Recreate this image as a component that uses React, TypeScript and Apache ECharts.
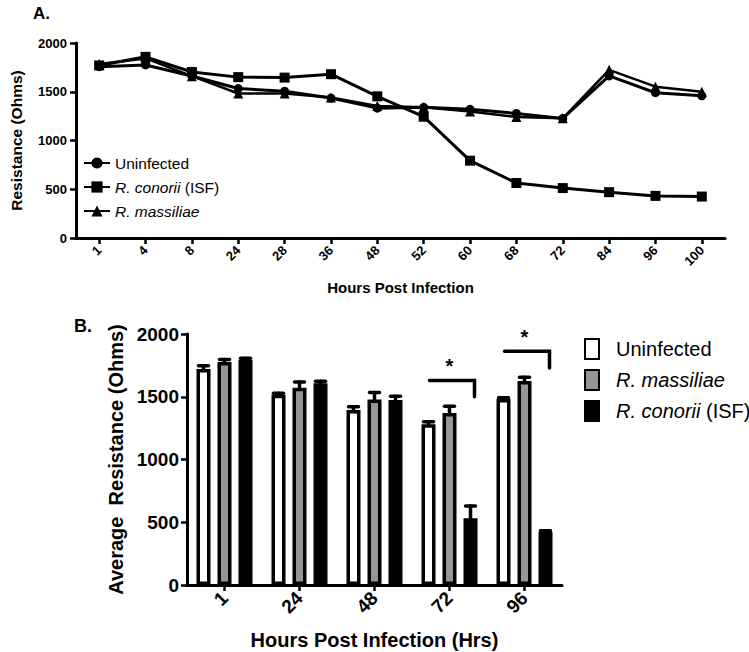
import React, { useEffect, useRef } from "react";
import * as echarts from "echarts";

// ---- Panel A data ----
const hoursA = ["1", "4", "8", "24", "28", "36", "48", "52", "60", "68", "72", "84", "96", "100"];
const uninfectedA = [1757, 1775, 1662, 1533, 1505, 1435, 1332, 1340, 1320, 1278, 1226, 1662, 1490, 1458];
const conoriiA = [1770, 1858, 1703, 1650, 1645, 1680, 1453, 1244, 793, 564, 512, 470, 432, 425];
const massiliaeA = [1785, 1842, 1660, 1482, 1482, 1440, 1354, 1340, 1298, 1240, 1228, 1725, 1552, 1500];

// ---- Panel B data ----
const hoursB = ["1", "24", "48", "72", "96"];
const uninfectedB = [1722, 1515, 1395, 1280, 1482];
const uninfectedErr = [25, 12, 25, 20, 10];
const massiliaeB = [1776, 1572, 1478, 1370, 1625];
const massiliaeErr = [20, 45, 55, 55, 30];
const conoriiB = [1795, 1608, 1474, 532, 422];
const conoriiErr = [12, 15, 30, 98, 10];
const sigCats = [3, 4];
const sigTop = [1630, 1862];
const sigBottom = [1500, 1730];

const FONT = "'Liberation Sans', Arial, sans-serif";

export default function App() {
  const ref = useRef<HTMLDivElement>(null);
  useEffect(() => {
    document.body.style.margin = "0";
    const chart = echarts.init(ref.current!, null, { renderer: "svg" });

    const barSeriesDefs = [
      { name: "B:Uninfected", data: uninfectedB, err: uninfectedErr, color: "#ffffff" },
      { name: "B:R. massiliae", data: massiliaeB, err: massiliaeErr, color: "#969696" },
      { name: "B:R. conorii (ISF)", data: conoriiB, err: conoriiErr, color: "#000000" },
    ];
    const barStep = 21;

    const errData: number[][] = [];
    barSeriesDefs.forEach((s, si) => {
      s.data.forEach((v, ci) => errData.push([ci, v, s.err[ci], si]));
    });

    const sigData = sigCats.map((c, i) => [c, sigTop[i], sigBottom[i]]);

    const fmt = (prefix: string) => (name: string) => {
      const n = name.replace(prefix, "");
      if (n === "R. conorii (ISF)") return "{i|R. conorii} (ISF)";
      if (n === "R. massiliae") return "{i|R. massiliae}";
      return n;
    };
    const plain = (v: number) => String(v);

    const axisLine = { show: true, lineStyle: { color: "#000", width: 3 } };
    const axisTick = { show: true, length: 6, lineStyle: { color: "#000", width: 2.5 } };

    const option: any = {
      animation: false,
      textStyle: { fontFamily: FONT, color: "#000" },
      title: [
        { text: "A.", left: 28, top: 0, textStyle: { fontSize: 17, fontWeight: "bold", fontFamily: FONT, color: "#000" } },
        { text: "B.", left: 69, top: 312, textStyle: { fontSize: 18, fontWeight: "bold", fontFamily: FONT, color: "#000" } },
      ],
      legend: [
        {
          orient: "vertical",
          left: 83,
          top: 155,
          padding: 0,
          itemWidth: 26,
          itemHeight: 14,
          itemGap: 8,
          data: ["Uninfected", "R. conorii (ISF)", "R. massiliae"],
          formatter: fmt(""),
          textStyle: {
            fontSize: 15.5,
            fontFamily: FONT,
            color: "#000",
            rich: { i: { fontStyle: "italic", fontSize: 15.5, fontFamily: FONT, color: "#000" } },
          },
        },
        {
          orient: "vertical",
          left: 584,
          top: 338,
          padding: 0,
          itemWidth: 14,
          itemHeight: 20,
          itemGap: 9,
          icon: "rect",
          data: barSeriesDefs.map((s) => s.name),
          formatter: fmt("B:"),
          textStyle: {
            fontSize: 20,
            fontFamily: FONT,
            color: "#000",
            padding: [0, 0, 0, 12],
            rich: { i: { fontStyle: "italic", fontSize: 20, fontFamily: FONT, color: "#000" } },
          },
        },
      ],
      grid: [
        { left: 61, top: 43, width: 664, height: 195 },
        { left: 187, top: 334, width: 375, height: 251 },
      ],
      xAxis: [
        {
          type: "category",
          gridIndex: 0,
          data: hoursA,
          axisLine,
          axisTick: { ...axisTick, alignWithLabel: true },
          axisLabel: { rotate: 45, fontSize: 13, fontWeight: "bold", color: "#000", margin: 10, fontFamily: FONT },
          name: "Hours Post Infection",
          nameLocation: "middle",
          nameGap: 42,
          nameTextStyle: { fontSize: 15, fontWeight: "bold", color: "#000", fontFamily: FONT },
        },
        {
          type: "category",
          gridIndex: 1,
          data: hoursB,
          axisLine,
          axisTick: { ...axisTick, alignWithLabel: true },
          axisLabel: { rotate: 45, fontSize: 19, fontWeight: "bold", color: "#000", margin: 10, fontFamily: FONT },
          name: "Hours Post Infection (Hrs)",
          nameLocation: "middle",
          nameGap: 45,
          nameTextStyle: { fontSize: 20, fontWeight: "bold", color: "#000", fontFamily: FONT },
        },
      ],
      yAxis: [
        {
          type: "value",
          gridIndex: 0,
          min: 0,
          max: 2000,
          interval: 500,
          axisLine,
          axisTick,
          splitLine: { show: false },
          axisLabel: { fontSize: 13, fontWeight: "bold", color: "#000", margin: 9, fontFamily: FONT, formatter: plain },
          name: "Resistance (Ohms)",
          nameLocation: "middle",
          nameGap: 52,
          nameTextStyle: { fontSize: 15.5, fontWeight: "bold", color: "#000", fontFamily: FONT },
        },
        {
          type: "value",
          gridIndex: 1,
          min: 0,
          max: 2000,
          interval: 500,
          axisLine,
          axisTick,
          splitLine: { show: false },
          axisLabel: { fontSize: 19, fontWeight: "bold", color: "#000", margin: 8, fontFamily: FONT, formatter: plain },
          name: "Average  Resistance (Ohms)",
          nameLocation: "middle",
          nameGap: 59,
          nameTextStyle: { fontSize: 20, fontWeight: "bold", color: "#000", fontFamily: FONT },
        },
      ],
      series: [
        {
          name: "Uninfected",
          type: "line",
          xAxisIndex: 0,
          yAxisIndex: 0,
          data: uninfectedA,
          symbol: "circle",
          symbolSize: 9,
          color: "#000",
          lineStyle: { color: "#000", width: 3 },
          itemStyle: { color: "#000" },
        },
        {
          name: "R. conorii (ISF)",
          type: "line",
          xAxisIndex: 0,
          yAxisIndex: 0,
          data: conoriiA,
          symbol: "rect",
          symbolSize: 10,
          color: "#000",
          lineStyle: { color: "#000", width: 3 },
          itemStyle: { color: "#000" },
        },
        {
          name: "R. massiliae",
          type: "line",
          xAxisIndex: 0,
          yAxisIndex: 0,
          data: massiliaeA,
          symbol: "triangle",
          symbolSize: 10,
          color: "#000",
          lineStyle: { color: "#000", width: 2.5 },
          itemStyle: { color: "#000" },
        },
        ...barSeriesDefs.map((s) => ({
          name: s.name,
          type: "bar",
          xAxisIndex: 1,
          yAxisIndex: 1,
          data: s.data,
          barWidth: 14,
          barGap: "50%",
          itemStyle: { color: s.color, borderColor: "#000", borderWidth: 3.5 },
          z: 2,
        })),
        {
          type: "custom",
          xAxisIndex: 1,
          yAxisIndex: 1,
          data: errData,
          encode: { x: 0, y: 1 },
          z: 3,
          renderItem: (params: any, api: any) => {
            const ci = api.value(0);
            const mean = api.value(1);
            const err = api.value(2);
            const si = api.value(3);
            const x = api.coord([ci, 0])[0] + (si - 1) * barStep;
            const yBase = api.coord([ci, mean])[1];
            const yTop = api.coord([ci, mean + err])[1];
            const style = { stroke: "#000", lineWidth: 3.5, lineCap: "round" };
            return {
              type: "group",
              children: [
                { type: "line", shape: { x1: x, y1: yBase, x2: x, y2: yTop }, style },
                { type: "line", shape: { x1: x - 5, y1: yTop, x2: x + 5, y2: yTop }, style },
              ],
            };
          },
        },
        {
          type: "custom",
          xAxisIndex: 1,
          yAxisIndex: 1,
          data: sigData,
          encode: { x: 0, y: 1 },
          z: 3,
          renderItem: (params: any, api: any) => {
            const ci = api.value(0);
            const cx = api.coord([ci, 0])[0];
            const yT = api.coord([ci, api.value(1)])[1];
            const yB = api.coord([ci, api.value(2)])[1];
            return {
              type: "group",
              children: [
                {
                  type: "polyline",
                  shape: { points: [[cx - 20, yT], [cx + 25, yT], [cx + 25, yB]] },
                  style: { stroke: "#000", lineWidth: 3.5, fill: "none", lineCap: "round", lineJoin: "miter" },
                },
                {
                  type: "text",
                  x: cx,
                  y: yT - 4,
                  style: { text: "*", fontSize: 20, fontWeight: "bold", fontFamily: FONT, fill: "#000", align: "center", verticalAlign: "bottom" },
                },
              ],
            };
          },
        },
      ],
    };
    chart.setOption(option);
    return () => chart.dispose();
  }, []);
  return <div ref={ref} style={{ width: 749, height: 652 }} />;
}
